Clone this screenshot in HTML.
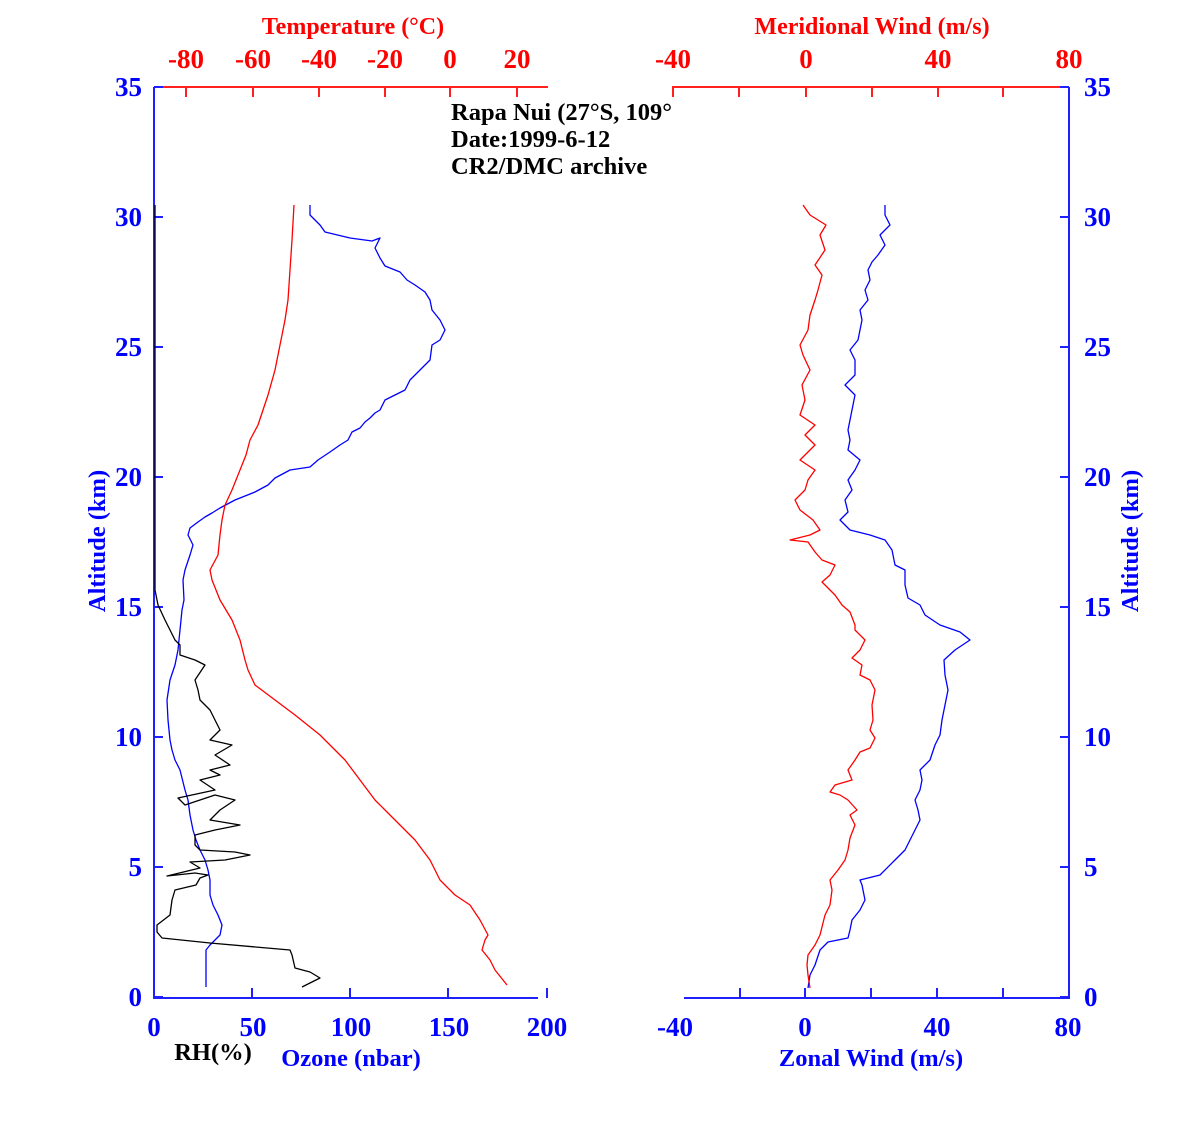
<!DOCTYPE html>
<html><head><meta charset="utf-8"><style>
body{margin:0;background:#fff}
svg text{font-family:"Liberation Serif",serif;font-weight:bold}
</style></head><body>
<svg width="1181" height="1122" viewBox="0 0 1181 1122" xmlns="http://www.w3.org/2000/svg">
<rect width="1181" height="1122" fill="#fff"/>
<g font-size="24.5" fill="#000">
<text x="451" y="120">Rapa Nui (27°S, 109°</text>
<text x="451" y="147">Date:1999-6-12</text>
<text x="451" y="174">CR2/DMC archive</text>
</g>
<rect x="675" y="92" width="80" height="35" fill="#fff"/>
<g stroke="#ff2020" stroke-width="2" fill="none">
<path d="M154 87H548"/>
<path d="M186 87v10M253 87v10M319 87v10M385 87v10M450 87v10M517 87v10"/>
<path d="M673 97V87H1069"/>
<path d="M739 87v10M806 87v10M872 87v10M938 87v10M1003 87v10"/>
</g>
<g stroke="#2020ff" stroke-width="2" fill="none">
<path d="M154 87V998H538"/>
<path d="M252 998v-10M350 998v-10M448 998v-10M547 998v-10"/>
<path d="M154 997h9M154 867h9M154 737h9M154 607h9M154 477h9M154 347h9M154 217h9M154 87h9"/>
<path d="M684 998H1069V87"/>
<path d="M740 998v-10M805 998v-10M871 998v-10M937 998v-10M1003 998v-10"/>
<path d="M1069 997h-9M1069 867h-9M1069 737h-9M1069 607h-9M1069 477h-9M1069 347h-9M1069 217h-9M1069 87h-9"/>
</g>
<g fill="#ff0000" text-anchor="middle">
<g font-size="24">
<text x="353" y="34">Temperature (°C)</text>
<text x="872" y="34">Meridional Wind (m/s)</text>
</g>
<g font-size="27">
<text x="186" y="68">-80</text><text x="253" y="68">-60</text><text x="319" y="68">-40</text><text x="385" y="68">-20</text><text x="450" y="68">0</text><text x="517" y="68">20</text>
<text x="673" y="68">-40</text><text x="806" y="68">0</text><text x="938" y="68">40</text><text x="1069" y="68">80</text>
</g>
</g>
<g fill="#0000ff" font-size="27">
<g text-anchor="end">
<text x="142" y="1006">0</text><text x="142" y="876">5</text><text x="142" y="746">10</text><text x="142" y="616">15</text><text x="142" y="486">20</text><text x="142" y="356">25</text><text x="142" y="226">30</text><text x="142" y="96">35</text>
</g>
<text x="1084" y="1006">0</text><text x="1084" y="876">5</text><text x="1084" y="746">10</text><text x="1084" y="616">15</text><text x="1084" y="486">20</text><text x="1084" y="356">25</text><text x="1084" y="226">30</text><text x="1084" y="96">35</text>
<g text-anchor="middle">
<text x="154" y="1036">0</text><text x="253" y="1036">50</text><text x="351" y="1036">100</text><text x="449" y="1036">150</text><text x="547" y="1036">200</text>
<text x="675" y="1036">-40</text><text x="805" y="1036">0</text><text x="937" y="1036">40</text><text x="1068" y="1036">80</text>
</g>
</g>
<g fill="#0000ff" font-size="24.5" text-anchor="middle">
<text x="351" y="1066">Ozone (nbar)</text>
<text x="871" y="1066">Zonal Wind (m/s)</text>
<text transform="translate(105,541) rotate(-90)">Altitude (km)</text>
<text transform="translate(1138,541) rotate(-90)">Altitude (km)</text>
</g>
<text x="213" y="1060" font-size="24.5" text-anchor="middle" fill="#000">RH(%)</text>
<g fill="none" stroke-width="1.3" stroke-linejoin="round">
<polyline stroke="#0000ff" points="206,987 206,950 210,945 220,935 222,925 218,915 213,905 210,895 210,880 208,870 205,860 200,850 196,840 193,830 190,815 188,800 185,790 180,770 175,760 172,750 170,740 168,720 167,700 170,680 175,665 178,650 180,630 182,610 184,600 183,580 185,570 190,555 193,545 188,535 190,528 198,522 205,517 212,513 220,508 235,500 255,492 268,485 275,478 290,470 310,467 318,460 330,452 340,445 348,440 352,432 360,428 365,422 370,418 375,413 380,410 385,400 395,395 405,390 410,380 420,370 430,360 432,345 440,340 445,330 440,320 432,310 430,300 425,292 415,285 407,280 400,272 385,266 380,258 375,248 380,238 372,241 350,238 325,232 320,225 310,215 310,205"/>
<polyline stroke="#ff0000" points="507,985 495,970 490,960 482,950 485,940 488,935 480,920 470,905 455,895 440,880 430,860 415,840 400,825 385,810 375,800 360,780 345,760 320,735 295,715 275,700 255,685 248,670 245,660 240,640 232,620 220,600 212,580 210,570 218,555 220,535 222,520 225,505 232,490 240,470 246,455 250,440 258,425 263,410 268,395 275,370 280,345 285,320 288,300 290,270 292,240 294,205"/>
<polyline stroke="#000" points="302,987 320,978 310,972 295,968 292,955 290,950 210,943 162,938 157,932 157,925 170,915 172,900 175,890 196,885 200,878 208,875 195,873 167,876 200,868 190,862 225,860 250,855 235,852 200,850 195,845 195,835 215,830 240,825 210,820 220,810 235,800 215,795 185,805 178,798 215,790 200,780 220,775 210,770 230,765 215,755 232,745 210,740 220,730 215,720 210,710 200,700 198,690 195,680 205,665 195,660 180,655 180,645 175,640 170,630 165,620 158,605 155,590 155,575 155,205"/>
<polyline stroke="#0000ff" points="808,988 810,975 815,965 820,950 828,942 848,938 850,930 852,920 860,910 865,900 862,885 860,880 880,875 895,860 905,850 910,840 915,830 920,820 918,810 915,800 920,790 922,780 920,770 930,760 935,745 940,735 942,720 945,705 948,690 945,675 944,660 955,650 970,640 960,632 940,625 925,615 920,605 908,598 905,585 905,570 895,565 892,550 885,540 870,535 850,530 840,520 848,512 845,500 852,490 848,480 855,470 860,460 848,450 850,440 848,430 850,420 852,410 855,395 845,385 855,375 855,360 850,350 858,340 860,330 862,320 860,310 868,300 865,290 870,280 868,270 872,262 878,255 885,245 880,235 890,225 885,215 885,205"/>
<polyline stroke="#ff0000" points="810,988 808,975 807,965 808,955 815,945 820,935 825,915 830,905 832,890 830,880 838,870 845,860 848,850 850,838 855,825 850,815 857,810 848,800 840,795 830,792 835,785 852,780 848,770 855,760 860,752 870,748 875,738 870,730 873,720 872,705 875,690 870,680 860,675 862,665 852,658 860,650 865,640 855,630 855,625 850,612 842,605 835,595 822,582 830,575 835,565 822,560 815,552 808,542 790,540 810,535 820,530 813,520 800,510 795,500 805,490 808,480 815,470 800,460 815,445 805,435 815,425 800,415 805,400 802,385 810,370 803,355 800,345 808,330 810,315 815,300 818,290 822,275 815,265 825,250 820,235 826,225 810,215 803,205"/>
</g>
</svg>
</body></html>
